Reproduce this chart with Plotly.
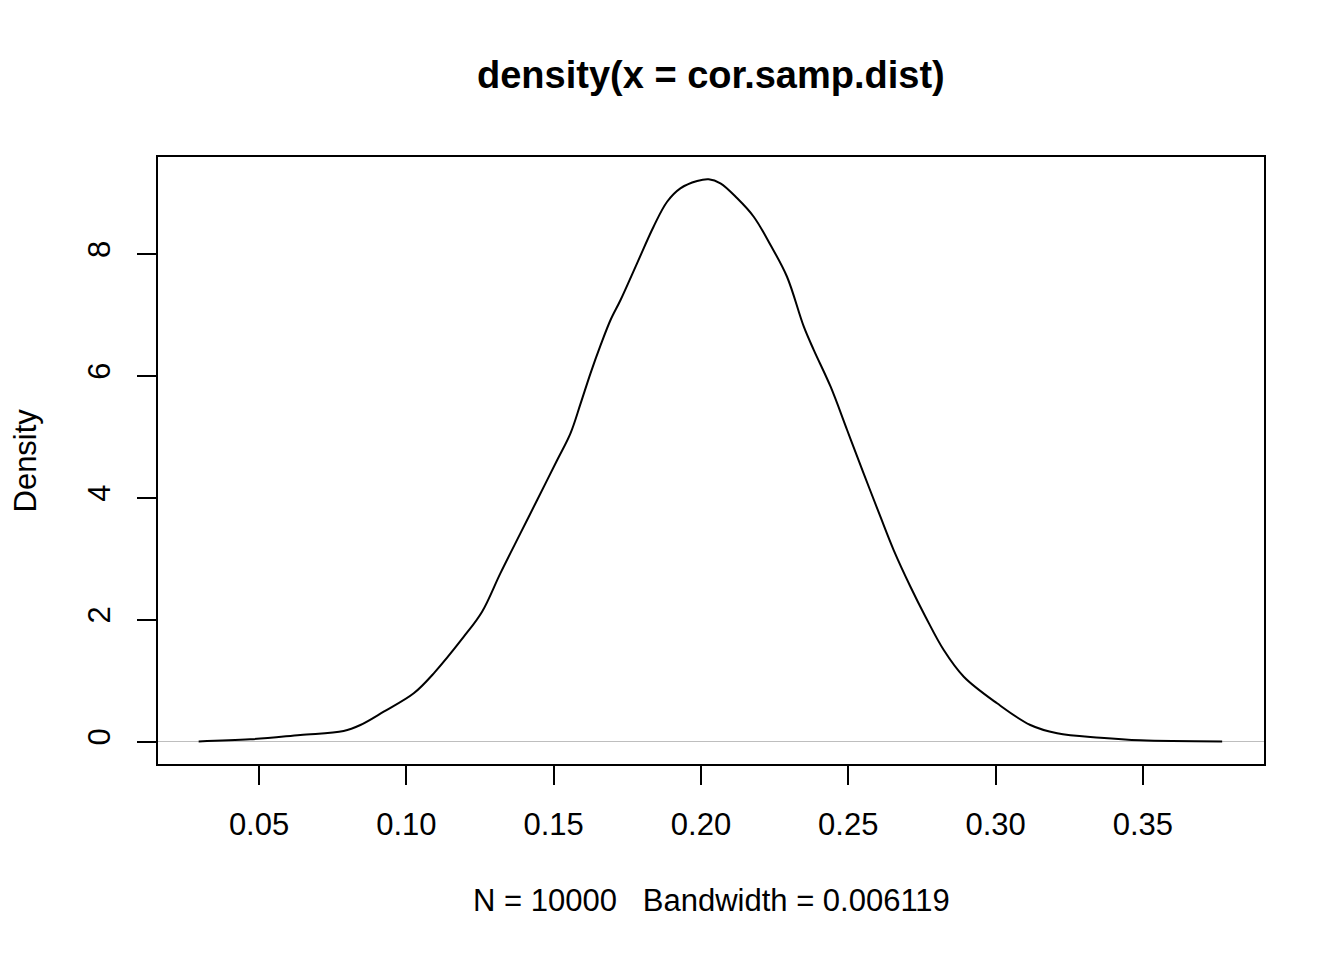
import plotly.graph_objects as go

# Density estimate values
x_vals = [0.0295, 0.0470, 0.0640, 0.0787, 0.0844, 0.0923, 0.1025, 0.1093, 0.1195, 0.1257,
          0.1319, 0.1387, 0.1444, 0.1512, 0.1557, 0.1591, 0.1625, 0.1659, 0.1693, 0.1727,
          0.1783, 0.1839, 0.1885, 0.1930, 0.1987, 0.2026, 0.2066, 0.2123, 0.2179, 0.2236,
          0.2292, 0.2349, 0.2383, 0.2440, 0.2496, 0.2552, 0.2609, 0.2654, 0.2711, 0.2762,
          0.2824, 0.2892, 0.3005, 0.3118, 0.3209, 0.3356, 0.3492, 0.3769]
density_vals = [0.002, 0.036, 0.107, 0.172, 0.271, 0.489, 0.791, 1.119, 1.720, 2.130,
                2.760, 3.416, 3.963, 4.619, 5.057, 5.540, 6.042, 6.500, 6.917, 7.245,
                7.847, 8.448, 8.858, 9.078, 9.198, 9.226, 9.160, 8.914, 8.612, 8.147,
                7.627, 6.807, 6.424, 5.822, 5.112, 4.401, 3.689, 3.142, 2.540, 2.048,
                1.501, 1.063, 0.627, 0.271, 0.135, 0.062, 0.020, 0.002]

x_ticks = [0.05, 0.10, 0.15, 0.20, 0.25, 0.30, 0.35]
x_tick_labels = ["0.05", "0.10", "0.15", "0.20", "0.25", "0.30", "0.35"]
y_ticks = [0, 2, 4, 6, 8]
y_tick_labels = ["0", "2", "4", "6", "8"]

title_text = "density(x = cor.samp.dist)"
x_title = "N = 10000   Bandwidth = 0.006119"
y_title = "Density"

FONT = "Liberation Sans, Arial, Helvetica, sans-serif"

fig = go.Figure()
fig.add_trace(go.Scatter(
    x=x_vals, y=density_vals, mode="lines",
    line=dict(color="black", width=2, shape="spline", smoothing=1.0),
    showlegend=False, hoverinfo="skip",
))

# zero line (gray)
fig.add_shape(type="line", xref="paper", yref="y", x0=0, x1=1, y0=0, y1=0,
              line=dict(color="#BEBEBE", width=1), layer="below")

fig.update_layout(
    width=1336, height=952,
    margin=dict(l=150, r=80, t=149, b=196, autoexpand=False),
    paper_bgcolor="white", plot_bgcolor="white",
    font=dict(family=FONT, color="black", size=31),
    showlegend=False,
)
fig.update_xaxes(
    range=[0.0157, 0.3911], tickvals=x_ticks, ticktext=x_tick_labels,
    showgrid=False, zeroline=False, showline=True, mirror=True,
    linecolor="black", linewidth=2, ticks="outside", ticklen=19, tickwidth=2,
    tickcolor="black", tickfont=dict(size=31, family=FONT, color="black"),
    ticklabelstandoff=13,
)
fig.update_yaxes(
    range=[-0.369, 9.592], tickvals=y_ticks, ticktext=y_tick_labels,
    showgrid=False, zeroline=False, showline=True, mirror=True,
    linecolor="black", linewidth=2, ticks="outside", ticklen=19, tickwidth=2,
    tickcolor="black", tickfont=dict(size=31, family=FONT, color="black"),
    tickangle=-90, ticklabelstandoff=15,
)

fig.add_annotation(text="<b>" + title_text + "</b>", xref="paper", yref="paper",
                   x=0.5, y=1, yshift=82, xanchor="center", yanchor="middle",
                   showarrow=False, font=dict(size=38, family=FONT, color="black"))
fig.add_annotation(text=x_title, xref="paper", yref="paper",
                   x=0.5, y=0, yshift=-136, xanchor="center", yanchor="middle",
                   showarrow=False, font=dict(size=31, family=FONT, color="black"))
fig.add_annotation(text=y_title, xref="paper", yref="paper",
                   x=0, xshift=-133, y=0.5, xanchor="center", yanchor="middle",
                   textangle=-90, showarrow=False,
                   font=dict(size=31, family=FONT, color="black"))

fig.write_html("out.html")
